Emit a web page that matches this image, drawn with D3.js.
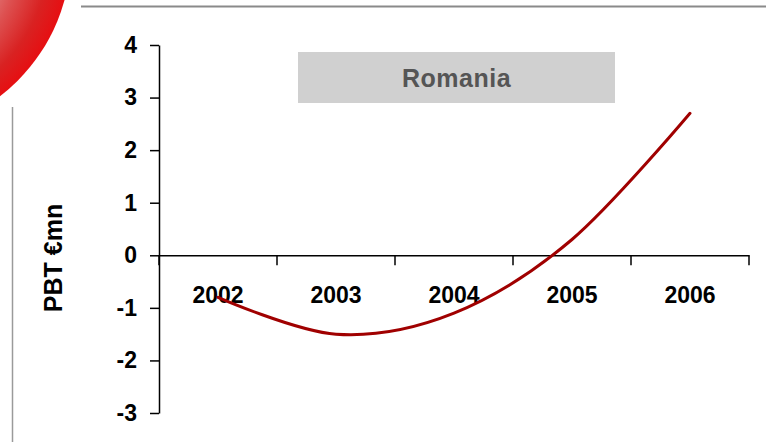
<!DOCTYPE html>
<html>
<head>
<meta charset="utf-8">
<script src="https://cdn.jsdelivr.net/npm/d3@7"></script>
<style>
  html, body { margin: 0; padding: 0; background: #fff; }
  svg { display: block; font-family: "Liberation Sans", Arial, sans-serif; }
</style>
</head>
<body>
<svg id="chart" width="766" height="442"></svg>
<script>
// Profit before tax, Romania (EUR mn)
const years = ["2002", "2003", "2004", "2005", "2006"];
const pbt = [-0.8, -1.5, -1.1, 0.3, 2.7];
const yTicks = [4, 3, 2, 1, 0, -1, -2, -3];
const title = "Romania";
const yTitle = "PBT €mn";

const svg = d3.select("#chart");

// Decorative page furniture: red disc in the corner, rules along top and left
const defs = svg.append("defs");
const grad = defs.append("radialGradient")
  .attr("id", "disc")
  .attr("gradientUnits", "userSpaceOnUse")
  .attr("cx", -111).attr("cy", -48).attr("r", 182)
  .attr("fx", -111).attr("fy", -48);
grad.append("stop").attr("offset", 0.60).attr("stop-color", "#e27a7a");
grad.append("stop").attr("offset", 0.72).attr("stop-color", "#dd5050");
grad.append("stop").attr("offset", 0.88).attr("stop-color", "#d92222");
grad.append("stop").attr("offset", 1.00).attr("stop-color", "#e60f12");

svg.append("circle")
  .attr("cx", -111).attr("cy", -48).attr("r", 182)
  .attr("fill", "url(#disc)");

svg.append("line")
  .attr("x1", 81).attr("x2", 766).attr("y1", 6.5).attr("y2", 6.5)
  .attr("stroke", "#8a8a8a").attr("stroke-width", 2);

svg.append("line")
  .attr("x1", 12.5).attr("x2", 12.5).attr("y1", 107).attr("y2", 442)
  .attr("stroke", "#9a9a9a").attr("stroke-width", 1.5);

// Scales
const x = d3.scaleBand().domain(years).range([159, 749]);
const y = d3.scaleLinear().domain([-3, 4]).range([413, 45]);

// Title box
const boxW = 317, boxH = 51;
const boxCx = 456.5;
svg.append("rect")
  .attr("x", boxCx - boxW / 2).attr("y", 52)
  .attr("width", boxW).attr("height", boxH)
  .attr("fill", "#d0d0d0");
svg.append("text")
  .attr("x", boxCx).attr("y", 78)
  .attr("dy", "0.35em")
  .attr("text-anchor", "middle")
  .attr("font-size", 25).attr("font-weight", "bold")
  .attr("letter-spacing", 0.5)
  .attr("fill", "#555555")
  .text(title);

// Y axis
const yAxis = svg.append("g")
  .attr("transform", `translate(${x.range()[0]},0)`)
  .call(d3.axisLeft(y).tickValues(yTicks).tickSize(9).tickSizeOuter(0).tickPadding(13).tickFormat(d3.format("d")));
yAxis.select(".domain").attr("stroke", "#000").attr("stroke-width", 1.5);
yAxis.selectAll(".tick line").attr("stroke", "#000").attr("stroke-width", 1.5);
yAxis.selectAll(".tick text")
  .attr("font-size", 23).attr("font-weight", "bold")
  .attr("font-family", "'Liberation Sans', Arial, sans-serif")
  .attr("fill", "#000")
  .text(d => d < 0 ? "-" + Math.abs(d) : d);

// X axis at zero, labels centred in each band, ticks on band boundaries
const xAxis = svg.append("g")
  .attr("transform", `translate(0,${y(0)})`)
  .call(d3.axisBottom(x).tickSize(0).tickSizeOuter(0).tickPadding(31));
xAxis.select(".domain").attr("stroke", "#000").attr("stroke-width", 1.5);
xAxis.selectAll(".tick text")
  .attr("font-size", 23).attr("font-weight", "bold")
  .attr("font-family", "'Liberation Sans', Arial, sans-serif")
  .attr("fill", "#000");

const bounds = years.map(d => x(d)).concat([x.range()[1]]);
xAxis.selectAll("line.bound")
  .data(bounds)
  .join("line")
  .attr("class", "bound")
  .attr("x1", d => d).attr("x2", d => d)
  .attr("y1", 0).attr("y2", 10)
  .attr("stroke", "#000").attr("stroke-width", 1.5);

// Y axis title
svg.append("text")
  .attr("transform", "translate(53,258) rotate(-90)")
  .attr("dy", "0.35em")
  .attr("text-anchor", "middle")
  .attr("font-size", 25).attr("font-weight", "bold")
  .attr("fill", "#000")
  .text(yTitle);

// Smoothed PBT line
const line = d3.line()
  .x((d, i) => x(years[i]) + x.bandwidth() / 2)
  .y(d => y(d))
  .curve(d3.curveCardinal.tension(0));

svg.append("path")
  .datum(pbt)
  .attr("d", line)
  .attr("fill", "none")
  .attr("stroke", "#a00000")
  .attr("stroke-width", 3)
  .attr("stroke-linecap", "round");
</script>
</body>
</html>
